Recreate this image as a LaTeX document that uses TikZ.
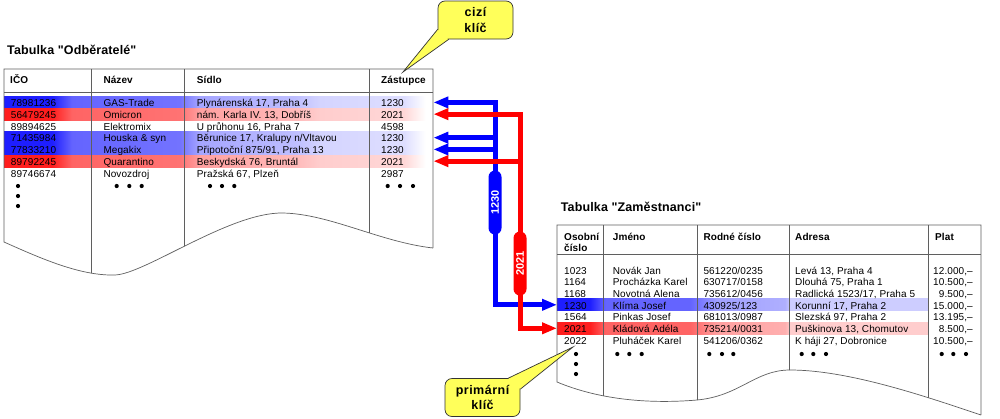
\documentclass[tikz,border=0pt]{standalone}
\usepackage{fontspec}
\setmainfont{Liberation Sans}[LetterSpace=1,Ligatures=TeXOff]
\usetikzlibrary{arrows.meta}

\definecolor{tabline}{RGB}{95,95,95}
\definecolor{keyblue}{RGB}{0,0,255}
\definecolor{keyred}{RGB}{255,0,0}
\definecolor{notefill}{RGB}{255,255,90}
\definecolor{bA}{RGB}{30,30,255}
\definecolor{bB}{RGB}{100,100,255}
\definecolor{bC}{RGB}{115,115,255}
\definecolor{bD}{RGB}{165,165,255}
\definecolor{bE}{RGB}{190,190,255}
\definecolor{bF}{RGB}{212,212,255}
\definecolor{bG}{RGB}{222,222,255}
\definecolor{bH}{RGB}{160,160,255}
\definecolor{bI}{RGB}{175,175,255}
\definecolor{bJ}{RGB}{205,205,255}
\definecolor{rA}{RGB}{255,30,30}
\definecolor{rB}{RGB}{255,100,100}
\definecolor{rC}{RGB}{255,115,115}
\definecolor{rD}{RGB}{255,160,160}
\definecolor{rE}{RGB}{255,185,185}
\definecolor{rF}{RGB}{255,205,205}
\definecolor{rG}{RGB}{255,215,215}
\definecolor{rH}{RGB}{255,160,160}
\definecolor{rI}{RGB}{255,175,175}
\definecolor{rJ}{RGB}{255,205,205}

\pgfdeclarehorizontalshading{odbblue}{100bp}{color(0bp)=(bA); color(30.6bp)=(bA); color(32.9bp)=(bB); color(45.5bp)=(bC); color(47.8bp)=(bD); color(58.9bp)=(bE); color(61.8bp)=(bF); color(71.6bp)=(bG); color(74.1bp)=(white); color(100bp)=(white)}
\pgfdeclarehorizontalshading{odbred}{100bp}{color(0bp)=(rA); color(30.6bp)=(rA); color(32.9bp)=(rB); color(45.5bp)=(rC); color(47.8bp)=(rD); color(58.9bp)=(rE); color(61.8bp)=(rF); color(71.6bp)=(rG); color(74.1bp)=(white); color(100bp)=(white)}
\pgfdeclarehorizontalshading{zamblue}{100bp}{color(0bp)=(bA); color(29.4bp)=(bA); color(31.5bp)=(bB); color(42.9bp)=(bB); color(46.6bp)=(bH); color(55.7bp)=(bI); color(56.4bp)=(bJ); color(100bp)=(bJ)}
\pgfdeclarehorizontalshading{zamred}{100bp}{color(0bp)=(rA); color(29.4bp)=(rA); color(31.5bp)=(rB); color(42.9bp)=(rB); color(46.6bp)=(rH); color(55.7bp)=(rI); color(56.4bp)=(rJ); color(100bp)=(rJ)}

\begin{document}
\begin{tikzpicture}[x=1pt,y=-1pt,
	cell/.style={anchor=base west,inner sep=0pt,font=\fontsize{10}{11}\selectfont},
	head/.style={cell,font=\fontsize{10}{11}\selectfont\bfseries},
	plat/.style={cell,anchor=base east},
	title/.style={anchor=base west,inner sep=0pt,font=\fontsize{12.5}{14}\selectfont\bfseries},
	band/.style={anchor=west,inner sep=0pt,shade,minimum height=11.75},
	tabgrid/.style={draw=tabline,line width=0.7pt},
	busB/.style={draw=keyblue,line width=5pt},
	busR/.style={draw=keyred,line width=5pt},
	keytip/.style={-{Triangle[length=15pt,width=11pt]}},
	keytips/.style={{Triangle[length=15pt,width=11pt]}-{Triangle[length=15pt,width=11pt]}},
	pill/.style={rotate=90,rounded corners=6.5pt,minimum width=64,minimum height=13,inner sep=0pt,text=white,font=\fontsize{11}{12}\selectfont\bfseries},
	note/.style={fill=notefill,draw=black!80,line width=0.7pt,rounded corners=7pt,minimum width=75,minimum height=38,align=center,font=\fontsize{12.5}{15.5}\selectfont\bfseries\addfontfeatures{LetterSpace=4}},
	noteline/.style={draw=black!80,line width=0.7pt}]
	\path[use as bounding box,fill=white] (0,0) rectangle (1000,418);

	% Tabulka Odberatele
	\node[title] (tOdb) at (7,54) {Tabulka "Odběratelé"};
	\node[band,shading=odbblue,minimum width=429] (odb1) at (4,102.4) {};
	\node[band,shading=odbred,minimum width=429] (odb2) at (4,114.15) {};
	\node[band,shading=odbblue,minimum width=429] (odb4) at (4,137.65) {};
	\node[band,shading=odbblue,minimum width=429] (odb5) at (4,149.4) {};
	\node[band,shading=odbred,minimum width=429] (odb6) at (4,161.15) {};
	\begin{scope}
		\clip (4,69) -- (433,69) -- (433,248) .. controls (380,242) and (330,214) .. (283,213) .. controls (230,212) and (145,274) .. (115,275) .. controls (80,276) and (40,258) .. (4,242) -- cycle;
		\draw[tabgrid] (4,92) -- (433,92) (91,69) -- (91,300) (184,69) -- (184,300) (369,69) -- (369,300);
	\end{scope}
	\draw[tabgrid] (433,248) -- (433,69) -- (4,69) -- (4,242) .. controls (40,258) and (80,276) .. (115,275) .. controls (145,274) and (230,212) .. (283,213) .. controls (330,214) and (380,242) .. (433,248);
	\node[head] (hIco) at (10,83.5) {IČO};
	\node[head] (hNaz) at (103.3,83.5) {Název};
	\node[head] (hSid) at (196.7,83.5) {Sídlo};
	\node[head] (hZas) at (381,83.5) {Zástupce};
	\node[cell] (ico1) at (10.7,106.6) {78981236};
	\node[cell] (naz1) at (103.3,106.6) {GAS-Trade};
	\node[cell] (sid1) at (196.7,106.6) {Plynárenská 17, Praha 4};
	\node[cell] (zas1) at (381,106.6) {1230};
	\node[cell] (ico2) at (10.7,118.35) {56479245};
	\node[cell] (naz2) at (103.3,118.35) {Omicron};
	\node[cell] (sid2) at (196.7,118.35) {nám. Karla IV. 13, Dobříš};
	\node[cell] (zas2) at (381,118.35) {2021};
	\node[cell] (ico3) at (10.7,130.1) {89894625};
	\node[cell] (naz3) at (103.3,130.1) {Elektromix};
	\node[cell] (sid3) at (196.7,130.1) {U průhonu 16, Praha 7};
	\node[cell] (zas3) at (381,130.1) {4598};
	\node[cell] (ico4) at (10.7,141.85) {71435984};
	\node[cell] (naz4) at (103.3,141.85) {Houska \& syn};
	\node[cell] (sid4) at (196.7,141.85) {Běrunice 17, Kralupy n/Vltavou};
	\node[cell] (zas4) at (381,141.85) {1230};
	\node[cell] (ico5) at (10.7,153.6) {77833210};
	\node[cell] (naz5) at (103.3,153.6) {Megakix};
	\node[cell] (sid5) at (196.7,153.6) {Připotoční 875/91, Praha 13};
	\node[cell] (zas5) at (381,153.6) {1230};
	\node[cell] (ico6) at (10.7,165.35) {89792245};
	\node[cell] (naz6) at (103.3,165.35) {Quarantino};
	\node[cell] (sid6) at (196.7,165.35) {Beskydská 76, Bruntál};
	\node[cell] (zas6) at (381,165.35) {2021};
	\node[cell] (ico7) at (10.7,177.1) {89746674};
	\node[cell] (naz7) at (103.3,177.1) {Novozdroj};
	\node[cell] (sid7) at (196.7,177.1) {Pražská 67, Plzeň};
	\node[cell] (zas7) at (381,177.1) {2987};
	\fill (18,186) circle (2.1pt) (18,196) circle (2.1pt) (18,206) circle (2.1pt)
		(116.7,186) circle (2.1pt) (129.3,186) circle (2.1pt) (141.7,186) circle (2.1pt)
		(210,186) circle (2.1pt) (222,186) circle (2.1pt) (234.3,186) circle (2.1pt)
		(387.7,186) circle (2.1pt) (400,186) circle (2.1pt) (413,186) circle (2.1pt);

	% Tabulka Zamestnanci
	\node[title] (tZam) at (560.7,211) {Tabulka "Zaměstnanci"};
	\node[band,shading=zamblue,minimum width=371] (zam4) at (557,304.8) {};
	\node[band,shading=zamred,minimum width=371] (zam6) at (557,328.3) {};
	\begin{scope}
		\clip (557,225) -- (981,225) -- (981,415) .. controls (930,398) and (850,370) .. (790,370) .. controls (755,370) and (740,396) .. (697,400) .. controls (650,404) and (600,400) .. (557,382) -- cycle;
		\draw[tabgrid] (557,254.3) -- (981,254.3) (603.3,225) -- (603.3,430) (697.3,225) -- (697.3,430) (789,225) -- (789,430) (928,225) -- (928,430);
	\end{scope}
	\draw[tabgrid] (981,415) -- (981,225) -- (557,225) -- (557,382) .. controls (600,400) and (650,404) .. (697,400) .. controls (740,396) and (755,370) .. (790,370) .. controls (850,370) and (930,398) .. (981,415);
	\node[head,align=left,anchor=north west] (hOs) at (564,232.8) {Osobní\\číslo};
	\node[head] (hJm) at (612.7,240.7) {Jméno};
	\node[head] (hRc) at (703.3,240.7) {Rodné číslo};
	\node[head] (hAdr) at (795,240.7) {Adresa};
	\node[head] (hPlat) at (935,240.7) {Plat};
	\node[cell] (os1) at (564,274.3) {1023};
	\node[cell] (jm1) at (612.7,274.3) {Novák Jan};
	\node[cell] (rc1) at (703.3,274.3) {561220/0235};
	\node[cell] (adr1) at (795,274.3) {Levá 13, Praha 4};
	\node[plat] (plat1) at (973,274.3) {12.000,–};
	\node[cell] (os2) at (564,285.95) {1164};
	\node[cell] (jm2) at (612.7,285.95) {Procházka Karel};
	\node[cell] (rc2) at (703.3,285.95) {630717/0158};
	\node[cell] (adr2) at (795,285.95) {Dlouhá 75, Praha 1};
	\node[plat] (plat2) at (973,285.95) {10.500,–};
	\node[cell] (os3) at (564,297.6) {1168};
	\node[cell] (jm3) at (612.7,297.6) {Novotná Alena};
	\node[cell] (rc3) at (703.3,297.6) {735612/0456};
	\node[cell] (adr3) at (795,297.6) {Radlická 1523/17, Praha 5};
	\node[plat] (plat3) at (973,297.6) {9.500,–};
	\node[cell] (os4) at (564,309.25) {1230};
	\node[cell] (jm4) at (612.7,309.25) {Klíma Josef};
	\node[cell] (rc4) at (703.3,309.25) {430925/123};
	\node[cell] (adr4) at (795,309.25) {Korunní 17, Praha 2};
	\node[plat] (plat4) at (973,309.25) {15.000,–};
	\node[cell] (os5) at (564,320.9) {1564};
	\node[cell] (jm5) at (612.7,320.9) {Pinkas Josef};
	\node[cell] (rc5) at (703.3,320.9) {681013/0987};
	\node[cell] (adr5) at (795,320.9) {Slezská 97, Praha 2};
	\node[plat] (plat5) at (973,320.9) {13.195,–};
	\node[cell] (os6) at (564,332.55) {2021};
	\node[cell] (jm6) at (612.7,332.55) {Kládová Adéla};
	\node[cell] (rc6) at (703.3,332.55) {735214/0031};
	\node[cell] (adr6) at (795,332.55) {Puškinova 13, Chomutov};
	\node[plat] (plat6) at (973,332.55) {8.500,–};
	\node[cell] (os7) at (564,344.2) {2022};
	\node[cell] (jm7) at (612.7,344.2) {Pluháček Karel};
	\node[cell] (rc7) at (703.3,344.2) {541206/0362};
	\node[cell] (adr7) at (795,344.2) {K háji 27, Dobronice};
	\node[plat] (plat7) at (973,344.2) {10.500,–};
	\fill (576,354) circle (2.1pt) (576,364) circle (2.1pt) (576,374) circle (2.1pt)
		(617.3,354) circle (2.1pt) (629.3,354) circle (2.1pt) (641.7,354) circle (2.1pt)
		(709.3,354) circle (2.1pt) (722,354) circle (2.1pt) (733.3,354) circle (2.1pt)
		(801.7,354) circle (2.1pt) (813.3,354) circle (2.1pt) (826,354) circle (2.1pt)
		(941.7,354) circle (2.1pt) (953.3,354) circle (2.1pt) (966,354) circle (2.1pt);

	% klice
	\coordinate (bBot) at (495,304.8);
	\coordinate (rBot) at (520,328.3);
	\draw[busB,keytips] (odb1.east) -| (bBot) -- (zam4.west);
	\draw[busB,keytip] (bBot |- odb4.east) -- (odb4.east);
	\draw[busB,keytip] (bBot |- odb5.east) -- (odb5.east);
	\draw[busR,keytips] (odb2.east) -| (rBot) -- (zam6.west);
	\draw[busR,keytip] (rBot |- odb6.east) -- (odb6.east);
	\node[pill,fill=keyblue] (pB) at (495,202.5) {1230};
	\node[pill,fill=keyred] (pR) at (520,263.5) {2021};

	\node[note] (fk) at (475.5,20) {cizí\\klíč};
	\coordinate (fkTip) at (403,72);
	\fill[notefill] ([yshift=10pt]fk.south west) -- (fkTip) -- ([xshift=11pt]fk.south west) -- cycle;
	\draw[noteline] ([yshift=10pt]fk.south west) -- (fkTip) -- ([xshift=11pt]fk.south west);
	\node[note] (pk) at (482.5,397.5) {primární\\klíč};
	\coordinate (pkTip) at (573,347);
	\fill[notefill] ([xshift=-12pt]pk.north east) -- (pkTip) -- ([yshift=-11pt]pk.north east) -- cycle;
	\draw[noteline] ([xshift=-12pt]pk.north east) -- (pkTip) -- ([yshift=-11pt]pk.north east);
\end{tikzpicture}
\end{document}
